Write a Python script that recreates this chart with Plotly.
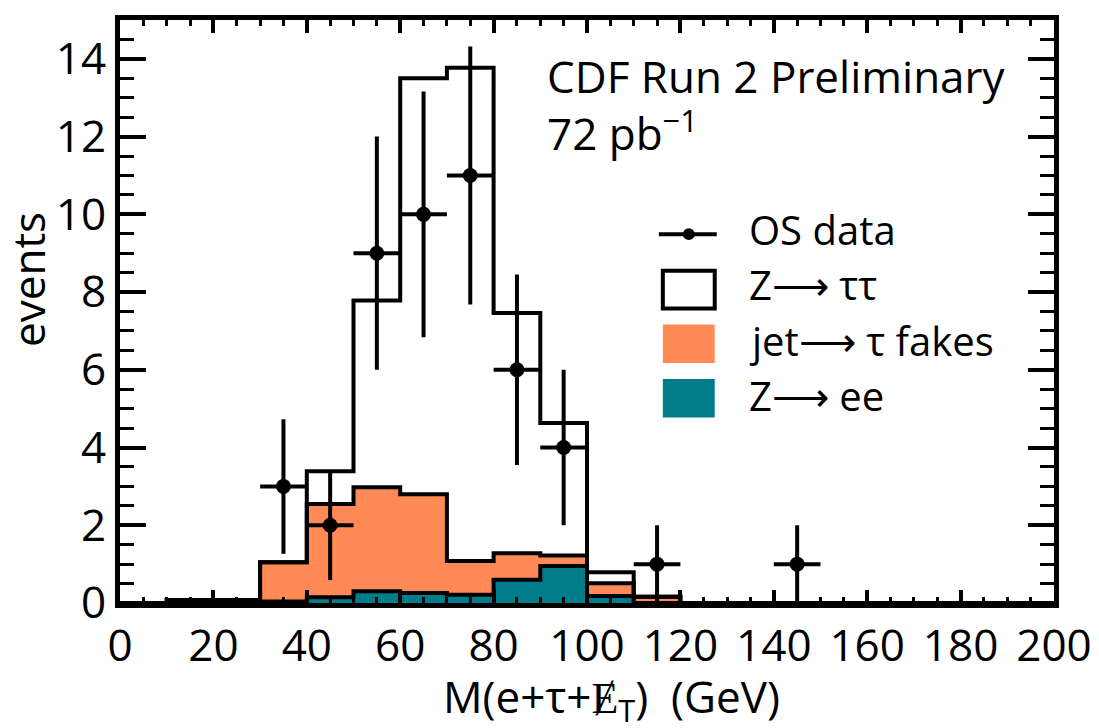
import numpy as np
import plotly.graph_objects as go

# ---- data ----
bin_edges = list(range(0, 210, 10))
bin_centers = [5 + 10 * i for i in range(20)]

# Z -> ee (bottom of stack)
z_ee = [0, 0, 0, 0.04, 0.15, 0.30, 0.26, 0.21, 0.60, 0.95,
        0.18, 0, 0, 0, 0, 0, 0, 0, 0, 0]
# jet -> tau fakes (middle of stack)
jet_fakes = [0, 0.08, 0.08, 1.01, 2.40, 2.68, 2.54, 0.87, 0.68, 0.27,
             0.33, 0.16, 0, 0, 0, 0, 0, 0, 0, 0]
# Z -> tautau (top of stack)
z_tautau = [0, 0, 0, 0, 0.84, 4.80, 10.70, 12.69, 6.18, 3.41,
            0.28, 0, 0, 0, 0, 0, 0, 0, 0, 0]

# OS data points
data_x = [35, 45, 55, 65, 75, 85, 95, 115, 145]
data_y = [3, 2, 9, 10, 11, 6, 4, 1, 1]
data_err = [1.73, 1.41, 3.0, 3.16, 3.32, 2.45, 2.0, 1.0, 1.0]
data_xerr = [5, 5, 5, 5, 5, 5, 5, 5, 5]

x_ticks = [0, 20, 40, 60, 80, 100, 120, 140, 160, 180, 200]
y_ticks = [0, 2, 4, 6, 8, 10, 12, 14]

ORANGE = "#FF8A56"
TEAL = "#007C8A"
FONT = "Open Sans"

fig = go.Figure()

# stacked filled histograms
for vals, col in [(z_ee, TEAL), (jet_fakes, ORANGE), (z_tautau, "white")]:
    fig.add_trace(go.Bar(x=bin_centers, y=vals, width=10, marker=dict(color=col, line=dict(width=0)),
                         showlegend=False, hoverinfo="skip"))

# step outlines of cumulative stack
c1 = np.array(z_ee)
c2 = c1 + np.array(jet_fakes)
c3 = c2 + np.array(z_tautau)
for top in [c1, c2, c3]:
    ys = list(top) + [top[-1]]
    fig.add_trace(go.Scatter(x=bin_edges, y=ys, mode="lines", line=dict(color="black", width=4, shape="hv"),
                             showlegend=False, hoverinfo="skip"))

# data with error bars
fig.add_trace(go.Scatter(
    x=data_x, y=data_y, mode="markers",
    marker=dict(color="black", size=15),
    error_y=dict(type="data", array=data_err, color="black", thickness=4, width=0),
    error_x=dict(type="data", array=data_xerr, color="black", thickness=4, width=0),
    showlegend=False, hoverinfo="skip"))

# page has an 8px body margin: compensate
OFF = 8
W, H = 1099 - OFF, 728 - OFF
L, T = 120 - OFF, 15 - OFF
pw, ph = 936, 588
R = W - L - pw
B = H - T - ph


def px(x):
    # page pixel -> paper coordinate
    return (x - OFF - L) / pw


def py(y):
    return (T + ph - (y - OFF)) / ph


annotations = [
    dict(text="CDF Run 2 Preliminary<br>72 pb<sup>−1</sup>", x=px(546), y=py(100), xref="paper", yref="paper",
         xanchor="left", yanchor="middle", align="left", showarrow=False,
         font=dict(family=FONT, size=44, color="black")),
    dict(text="M(e+τ+Ɇ<sub>T</sub>)  (GeV)", x=px(613), y=py(699), xref="paper", yref="paper",
         xanchor="center", yanchor="middle", showarrow=False, font=dict(family=FONT, size=44, color="black")),
    dict(text="events", x=px(28), y=py(277), xref="paper", yref="paper", textangle=-90,
         xanchor="center", yanchor="middle", showarrow=False, font=dict(family=FONT, size=44, color="black")),
]

legend_items = ["OS data", "Z⟶ ττ", "jet⟶ τ fakes", "Z⟶ ee"]
legend_y = [226, 282, 338, 394]
for t, yy in zip(legend_items, legend_y):
    annotations.append(dict(text=t, x=px(748), y=py(yy), xref="paper", yref="paper",
                            xanchor="left", yanchor="middle", showarrow=False,
                            font=dict(family=FONT, size=40, color="black")))

shapes = [
    dict(type="line", xref="paper", yref="paper", x0=px(660), x1=px(718), y0=py(231), y1=py(231),
         line=dict(color="black", width=4)),
    dict(type="circle", xref="paper", yref="paper", x0=px(684), x1=px(696), y0=py(237), y1=py(225),
         fillcolor="black", line=dict(color="black", width=0)),
    dict(type="rect", xref="paper", yref="paper", x0=px(664), x1=px(716), y0=py(306), y1=py(268),
         fillcolor="white", line=dict(color="black", width=4)),
    dict(type="rect", xref="paper", yref="paper", x0=px(664), x1=px(716), y0=py(361), y1=py(322),
         fillcolor=ORANGE, line=dict(width=0)),
    dict(type="rect", xref="paper", yref="paper", x0=px(664), x1=px(716), y0=py(416), y1=py(377),
         fillcolor=TEAL, line=dict(width=0)),
]

fig.update_layout(
    width=W, height=H,
    margin=dict(l=L, r=R, t=T, b=B, pad=0),
    paper_bgcolor="white", plot_bgcolor="white",
    barmode="stack", bargap=0,
    showlegend=False,
    annotations=annotations,
    shapes=shapes,
    xaxis=dict(range=[0, 200], tickvals=x_ticks, ticks="inside", ticklen=13, tickwidth=4, tickcolor="black",
               minor=dict(dtick=5, ticks="inside", ticklen=6, tickwidth=3, tickcolor="black"),
               showline=True, linewidth=5, linecolor="black", mirror="allticks",
               showgrid=False, zeroline=False,
               tickfont=dict(family=FONT, size=44, color="black")),
    yaxis=dict(range=[0, 15], tickvals=y_ticks, ticks="inside", ticklen=26, tickwidth=4, tickcolor="black",
               minor=dict(dtick=0.5, ticks="inside", ticklen=14, tickwidth=3, tickcolor="black"),
               showline=True, linewidth=5, linecolor="black", mirror="allticks",
               showgrid=False, zeroline=False,
               tickfont=dict(family=FONT, size=44, color="black")),
)

fig.write_html("out.html", config={"displayModeBar": False})
